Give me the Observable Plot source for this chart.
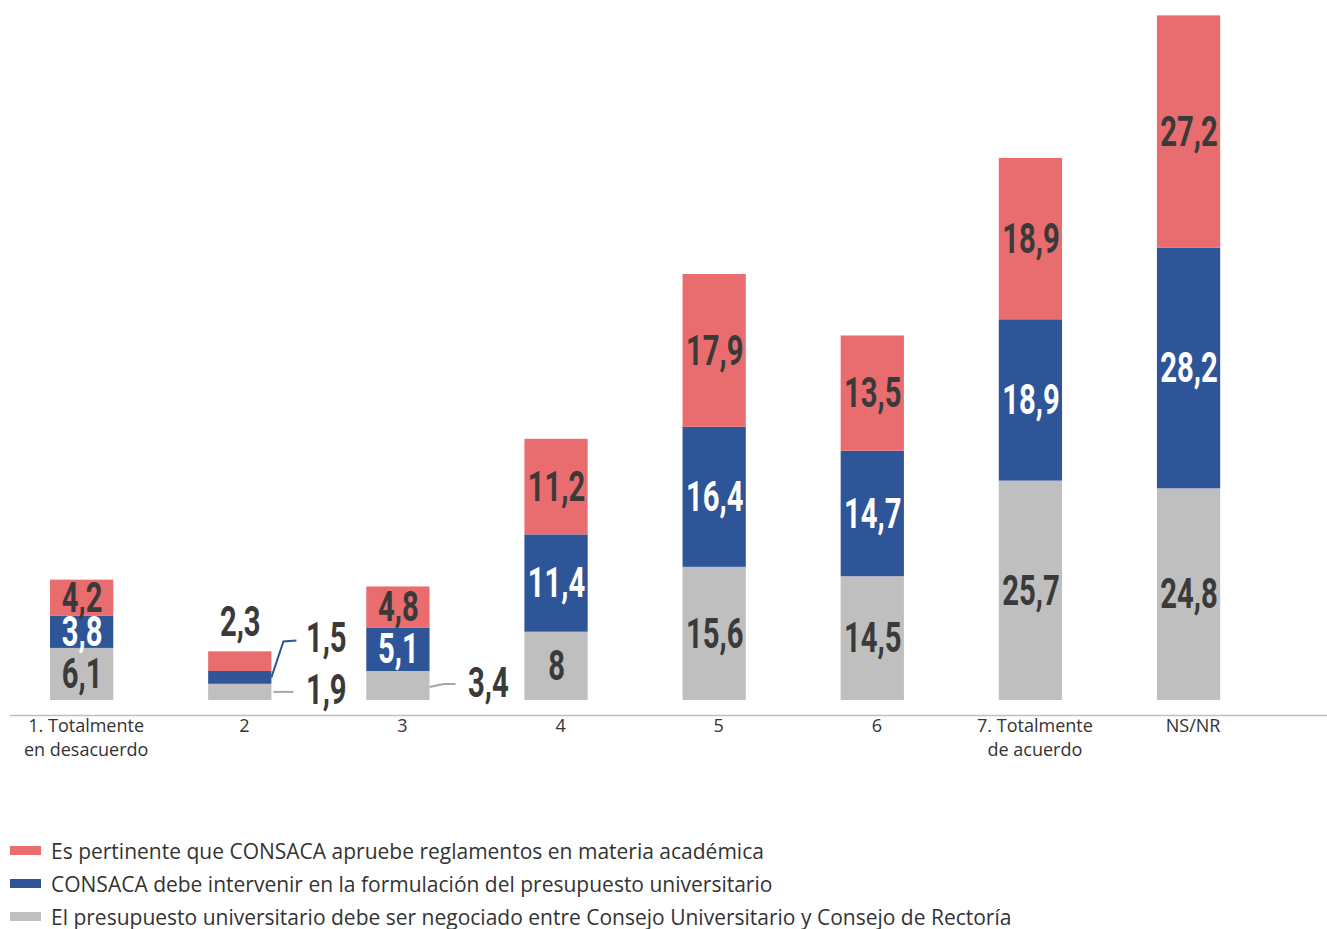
<!DOCTYPE html>
<html><head><meta charset="utf-8">
<script src="https://cdn.jsdelivr.net/npm/d3@7"></script>
<script src="https://cdn.jsdelivr.net/npm/@observablehq/plot@0.6"></script>
<style>
body{margin:0;background:#fff;font-family:"Open Sans",sans-serif;}
#legend{margin-top:44px;}
.row{display:flex;align-items:center;height:33px;font-size:21px;color:#333;white-space:nowrap;}
.sw{width:31px;height:9px;margin-left:10px;margin-right:10px;flex:none;}
</style></head><body>
<div id="chart"></div><div id="legend"></div>
<script>
const categories = ["1. Totalmente\nen desacuerdo", "2", "3", "4", "5", "6", "7. Totalmente\nde acuerdo", "NS/NR"];
const series = [
  "Es pertinente que CONSACA apruebe reglamentos en materia académica",
  "CONSACA debe intervenir en la formulación del presupuesto universitario",
  "El presupuesto universitario debe ser negociado entre Consejo Universitario y Consejo de Rectoría"
];
const redValues  = [4.2, 2.3, 4.8, 11.2, 17.9, 13.5, 18.9, 27.2];
const blueValues = [3.8, 1.5, 5.1, 11.4, 16.4, 14.7, 18.9, 28.2];
const grayValues = [6.1, 1.9, 3.4, 8, 15.6, 14.5, 25.7, 24.8];
const colors = ["#E96C6F", "#2D5597", "#BFBFBF"];

const seriesValues = [redValues, blueValues, grayValues];
const data = [];
categories.forEach((c, i) => {
  [2, 1, 0].forEach(s => data.push({category: c, series: series[s], value: seriesValues[s][i]}));
});
const fmt = v => String(v).replace(".", ",");
const isOutside = d => d.category === categories[1] || (d.category === categories[2] && d.series === series[2]);
const only = (cat, s) => d => (d.category === categories[cat] && d.series === series[s]) ? fmt(d.value) : "";

const labelFont = {fontFamily: "Roboto", fontWeight: "bold", fontSize: 43};
const stackOpts = (text, fill) => Plot.stackY({x: "category", y: "value", z: "series", text, fill, ...labelFont});

const marks = [
  Plot.barY(data, {x: "category", y: "value", fill: "series", z: "series"}),
  Plot.ruleY([0], {dy: 15, stroke: "#BFBFBF", strokeWidth: 1.5}),
  Plot.text(data, stackOpts(d => isOutside(d) ? "" : fmt(d.value), d => d.series === series[1] ? "#FFFFFF" : "#3A3A3A")),
  Plot.text(data, {...Plot.stackY2({x: "category", y: "value", z: "series", text: only(1, 0), ...labelFont}), fill: "#3A3A3A", dy: -30}),
  Plot.text(data, {...stackOpts(only(1, 1), "#3A3A3A"), dx: 86, dy: -40}),
  Plot.text(data, {...stackOpts(only(1, 2), "#3A3A3A"), dx: 86, dy: -2}),
  Plot.text(data, {...stackOpts(only(2, 2), "#3A3A3A"), dx: 90, dy: -3})
];
const axisOpts = {tickSize: 0, tickPadding: 15, fontSize: 18, lineHeight: 1.3, dx: 4, fill: "#333", label: null, fontFamily: "Open Sans"};
if (Plot.axisX) marks.push(Plot.axisX(axisOpts));

const chart = Plot.plot({
  width: 1327,
  height: 790,
  marginTop: 0,
  marginBottom: 90,
  marginLeft: 10,
  marginRight: 0,
  style: {fontFamily: "Open Sans", fontSize: "18px", color: "#333", background: "#fff", overflow: "visible"},
  x: {domain: categories, range: [18.4, 1251.8], paddingInner: 0.6, paddingOuter: 0.2, round: false, axis: Plot.axisX ? null : "bottom", tickSize: 0, tickPadding: 15, label: null},
  y: {domain: [0, 82], axis: null},
  color: {domain: series, range: colors},
  marks
});
document.getElementById("chart").appendChild(chart);

// condense the value labels horizontally
d3.select(chart).selectAll('g[font-family="Roboto"] text').each(function() {
  const t = this.getAttribute("transform");
  if (t) this.setAttribute("transform", t + " scale(0.68,1)");
  else {
    const x = +this.getAttribute("x") || 0, y = +this.getAttribute("y") || 0;
    this.removeAttribute("x"); this.removeAttribute("y");
    this.setAttribute("transform", `translate(${x},${y}) scale(0.68,1)`);
  }
});

// leader lines, positioned from the plot's scales
const xs = chart.scale("x"), ys = chart.scale("y");
const right2 = xs.apply(categories[1]) + xs.bandwidth;
const right3 = xs.apply(categories[2]) + xs.bandwidth;
const blueMid2 = ys.apply(grayValues[1] + blueValues[1] / 2);
const grayMid2 = ys.apply(grayValues[1] / 2);
const grayMid3 = ys.apply(grayValues[2] / 2);
const g = d3.select(chart).append("g").attr("fill", "none").attr("stroke-width", 2);
g.append("path").attr("stroke", colors[1]).attr("d", `M${right2},${blueMid2}L${right2 + 12},${blueMid2 - 36}L${right2 + 25},${blueMid2 - 37}`);
g.append("path").attr("stroke", "#A6A6A6").attr("d", `M${right2 + 2},${grayMid2}L${right2 + 22},${grayMid2}`);
g.append("path").attr("stroke", "#A6A6A6").attr("d", `M${right3},${grayMid3 + 1.5}L${right3 + 14},${grayMid3 - 1.5}L${right3 + 26},${grayMid3 - 1.5}`);

// legend
const legend = d3.select("#legend");
series.forEach((s, i) => {
  const row = legend.append("div").attr("class", "row");
  row.append("div").attr("class", "sw").style("background", colors[i]);
  row.append("span").text(s);
});
</script>
</body></html>
